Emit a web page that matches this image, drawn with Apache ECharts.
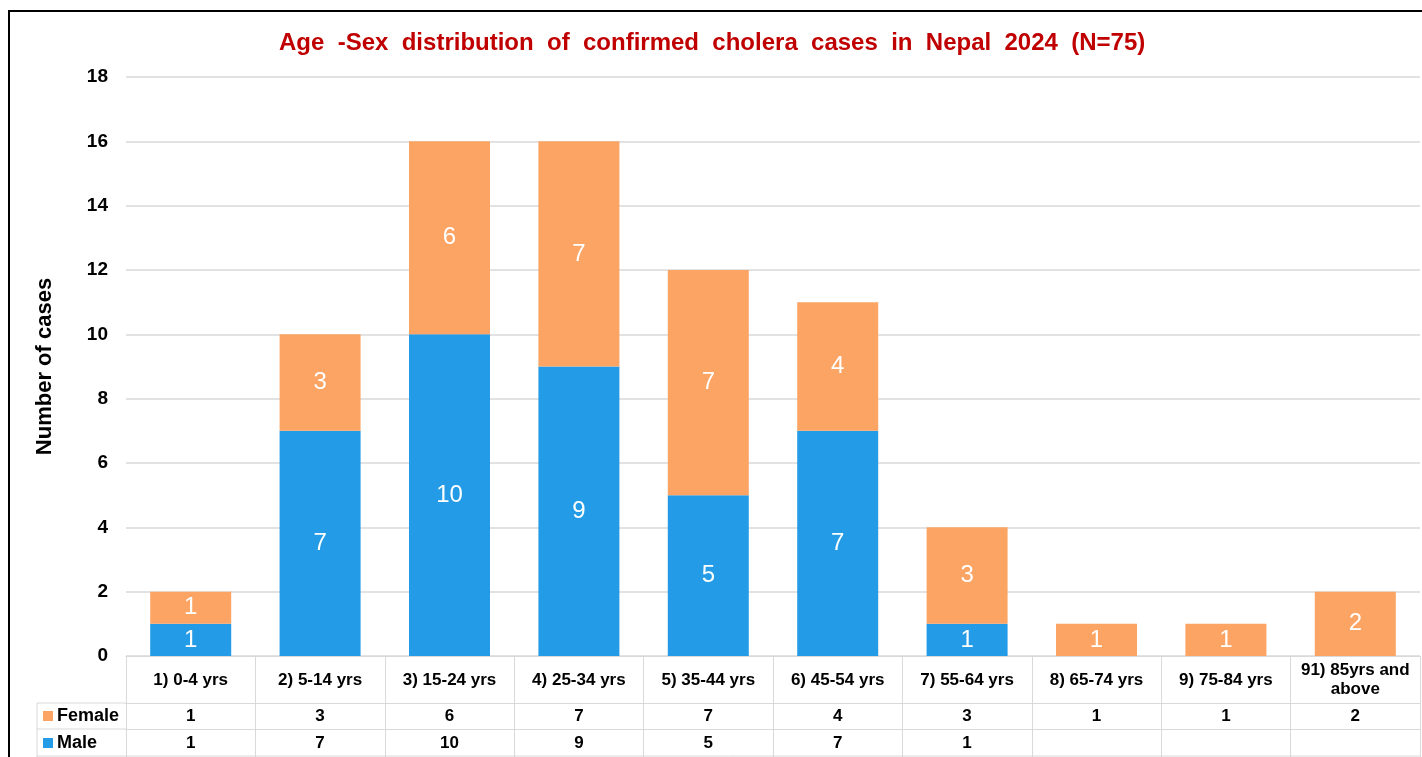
<!DOCTYPE html>
<html lang="en">
<head>
    <meta charset="UTF-8">
    <title>Age-Sex distribution of cholera cases</title>
    <style>
        html, body { margin: 0; padding: 0; background: #fff; }
    </style>
</head>
<body>
    <div id="main" style="width: 1422px;height:757px;"></div>
</body>
<script src="https://cdn.jsdelivr.net/npm/echarts@6/dist/echarts.min.js"></script>
<script type="text/javascript">
    // data
    var categories = ['1) 0-4 yrs', '2) 5-14 yrs', '3) 15-24 yrs', '4) 25-34 yrs', '5) 35-44 yrs',
        '6) 45-54 yrs', '7) 55-64 yrs', '8) 65-74 yrs', '9) 75-84 yrs', '91) 85yrs and\nabove'];
    var female = [1, 3, 6, 7, 7, 4, 3, 1, 1, 2];
    var male = [1, 7, 10, 9, 5, 7, 1, null, null, null];
    var yTicks = [0, 2, 4, 6, 8, 10, 12, 14, 16, 18];

    var FONT = 'Liberation Sans, Arial, sans-serif';
    var LINE = '#d9d9d9';
    var BLUE = '#239be6';
    var ORANGE = '#fba464';

    function cellText(arr) {
        return arr.map(function (v) { return v == null ? '' : String(v); });
    }

    function tableAxis(data, offset, tickLen, margin) {
        return {
            type: 'category',
            data: data,
            position: 'bottom',
            offset: offset,
            axisLine: { show: true, lineStyle: { color: LINE, width: 1 } },
            axisTick: { show: true, length: tickLen, lineStyle: { color: LINE } },
            axisLabel: {
                interval: 0, margin: margin, verticalAlign: 'middle',
                color: '#000', fontFamily: FONT, fontSize: 17, fontWeight: 'bold', lineHeight: 19
            }
        };
    }

    var myChart = echarts.init(document.getElementById('main'));
    var option = {
        animation: false,
        title: {
            text: 'Age  -Sex  distribution  of  confirmed  cholera  cases  in  Nepal  2024  (N=75)',
            left: 274, top: 26,
            textStyle: { color: '#c00000', fontFamily: FONT, fontSize: 24, fontWeight: 'bold' }
        },
        grid: { left: 126, right: 2, top: 77, bottom: 101 },
        xAxis: [
            tableAxis(categories, 0, 47, 24),
            tableAxis(cellText(female), 47, 26, 13),
            tableAxis(cellText(male), 73, 28, 14)
        ],
        yAxis: {
            type: 'value',
            min: yTicks[0], max: yTicks[yTicks.length - 1], interval: 2,
            name: 'Number of cases',
            nameLocation: 'middle',
            nameGap: 70,
            nameTextStyle: { color: '#000', fontFamily: FONT, fontSize: 22, fontWeight: 'bold' },
            axisLine: { show: false },
            axisTick: { show: false },
            axisLabel: { color: '#000', fontFamily: FONT, fontSize: 19, fontWeight: 'bold', margin: 18 },
            splitLine: { lineStyle: { color: LINE, width: 1.5 } }
        },
        series: [
            {
                name: 'Male', type: 'bar', stack: 'total', data: male, barWidth: 81,
                itemStyle: { color: BLUE },
                label: { show: true, position: 'inside', color: '#fff', fontFamily: FONT, fontSize: 24 }
            },
            {
                name: 'Female', type: 'bar', stack: 'total', data: female, barWidth: 81,
                itemStyle: { color: ORANGE },
                label: { show: true, position: 'inside', color: '#fff', fontFamily: FONT, fontSize: 24 }
            }
        ]
    };
    myChart.setOption(option);

    // legend keys column of the data table and outer frame
    var gl = { stroke: LINE, lineWidth: 1 };
    myChart.setOption({
        graphic: [
            { type: 'rect', shape: { x: 9, y: 11, width: 1440, height: 780 }, style: { fill: 'none', stroke: '#000', lineWidth: 2 }, silent: true },
            { type: 'line', shape: { x1: 37, y1: 703, x2: 126, y2: 703 }, style: gl },
            { type: 'line', shape: { x1: 37, y1: 729, x2: 126, y2: 729 }, style: gl },
            { type: 'line', shape: { x1: 37, y1: 756, x2: 1420, y2: 756 }, style: gl },
            { type: 'line', shape: { x1: 37, y1: 703, x2: 37, y2: 757 }, style: gl },
            { type: 'rect', shape: { x: 43, y: 711, width: 10, height: 10 }, style: { fill: ORANGE } },
            { type: 'text', x: 57, y: 716, style: { text: 'Female', fill: '#000', font: 'bold 18px ' + FONT, textVerticalAlign: 'middle' } },
            { type: 'rect', shape: { x: 43, y: 738, width: 10, height: 10 }, style: { fill: BLUE } },
            { type: 'text', x: 57, y: 743, style: { text: 'Male', fill: '#000', font: 'bold 18px ' + FONT, textVerticalAlign: 'middle' } }
        ]
    });
</script>
</html>
